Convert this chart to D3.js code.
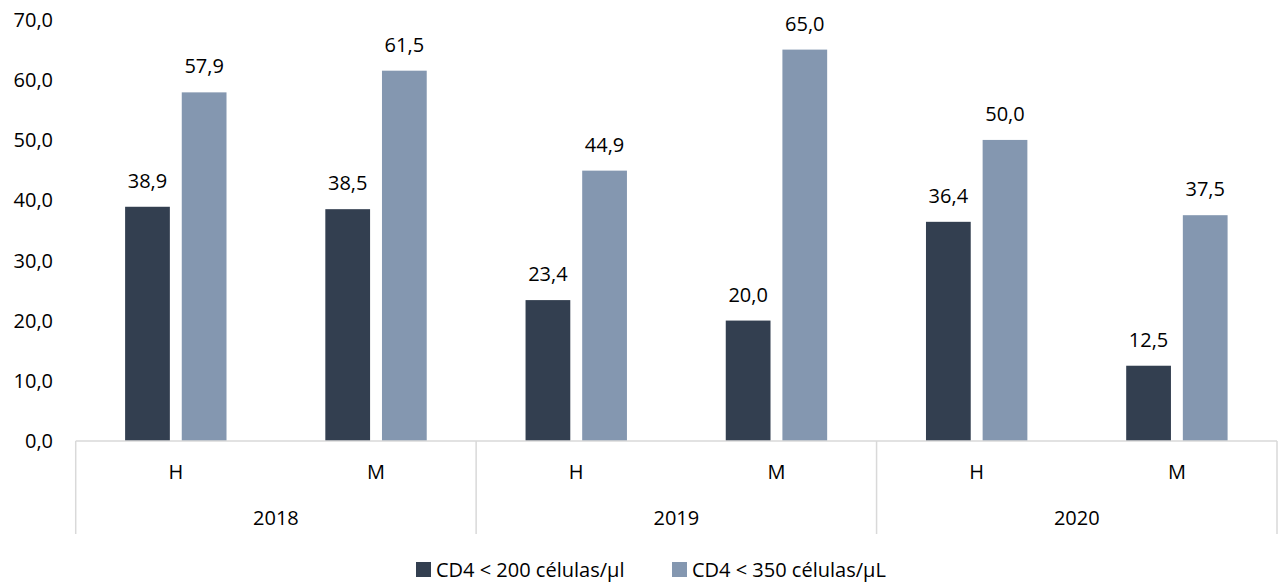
<!DOCTYPE html>
<html><head><meta charset="utf-8">
<script src="https://cdn.jsdelivr.net/npm/d3@7"></script>
<style>body{margin:0;background:#fff}svg{display:block}text{font-family:"Open Sans",sans-serif;fill:#000}</style>
</head><body><svg id="c" width="1279" height="583"></svg>
<script>
const years = ["2018","2019","2020"];
const sexes = ["H","M"];
const seriesNames = ["CD4 < 200 células/µl","CD4 < 350 células/µL"];
const cd4under200 = [38.9,38.5,23.4,20.0,36.4,12.5];
const cd4under350 = [57.9,61.5,44.9,65.0,50.0,37.5];
const yTicks = [0,10,20,30,40,50,60,70];
const colors = ["#333f50","#8497b0"];

const svg = d3.select("#c");
const L = 75.7, R = 1277, T = 19.5, B = 441;
const fmt = v => v.toFixed(1).replace(".", ",");
const cats = [];
years.forEach(yv => sexes.forEach(s => cats.push(yv + "|" + s)));
const x = d3.scaleBand().domain(cats).range([L, R]);
const xs = d3.scaleBand().domain([0,1]).range([x.bandwidth()/2-50.7, x.bandwidth()/2+50.7]).paddingInner(0.21);
const y = d3.scaleLinear().domain([0,70]).range([B, T]);

// y tick labels
svg.append("g").selectAll("text").data(yTicks).join("text")
  .attr("x", 53).attr("y", d => y(d)).attr("dy", "0.36em")
  .attr("text-anchor", "end").attr("font-size", 20).text(fmt);

// bars
const series = [cd4under200, cd4under350];
series.forEach((vals, si) => {
  const g = svg.append("g");
  g.selectAll("rect").data(vals).join("rect")
    .attr("x", (d,i) => x(cats[i]) + xs(si))
    .attr("width", xs.bandwidth())
    .attr("y", d => y(d)).attr("height", d => B - y(d))
    .attr("fill", colors[si]);
  g.selectAll("text").data(vals).join("text")
    .attr("x", (d,i) => x(cats[i]) + xs(si) + xs.bandwidth()/2)
    .attr("y", d => y(d) - 19)
    .attr("text-anchor", "middle").attr("font-size", 20).text(fmt);
});

// category axis
const ax = svg.append("g").attr("stroke", "#d9d9d9").attr("stroke-width", 1.5);
ax.append("line").attr("x1", L).attr("x2", R).attr("y1", B).attr("y2", B);
const yearX = d3.scaleBand().domain(years).range([L, R]);
[L, ...years.map(yv => yearX(yv) + yearX.bandwidth())].forEach(xx => {
  ax.append("line").attr("x1", xx).attr("x2", xx).attr("y1", B).attr("y2", 534);
});
svg.append("g").selectAll("text").data(cats).join("text")
  .attr("x", d => x(d) + x.bandwidth()/2).attr("y", 472).attr("dy", "0.36em")
  .attr("text-anchor", "middle").attr("font-size", 20).text(d => d.split("|")[1]);
svg.append("g").selectAll("text").data(years).join("text")
  .attr("x", d => yearX(d) + yearX.bandwidth()/2).attr("y", 518).attr("dy", "0.36em")
  .attr("text-anchor", "middle").attr("font-size", 20).text(d => d);

// legend
const lg = svg.append("g");
const lx = [416, 672];
seriesNames.forEach((n, i) => {
  lg.append("rect").attr("x", lx[i]).attr("y", 562).attr("width", 15).attr("height", 15).attr("fill", colors[i]);
  lg.append("text").attr("x", lx[i] + 20).attr("y", 570).attr("dy", "0.36em").attr("font-size", 20).text(n);
});
</script></body></html>
